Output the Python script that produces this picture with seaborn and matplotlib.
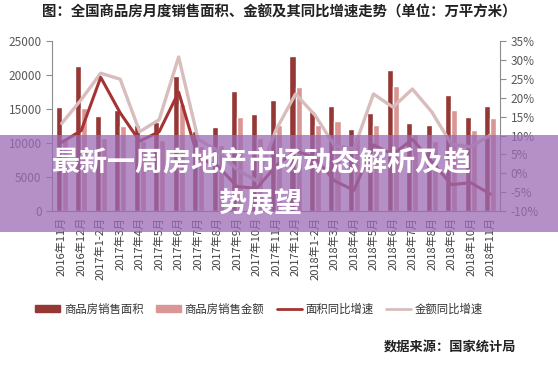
import numpy as np
import pandas as pd
import seaborn as sns
import matplotlib.pyplot as plt
from matplotlib.patches import Patch, Rectangle
from matplotlib.lines import Line2D
from matplotlib.ticker import FuncFormatter, MultipleLocator

months = ['2016年11月', '2016年12月', '2017年1-2月', '2017年3月', '2017年4月', '2017年5月',
          '2017年6月', '2017年7月', '2017年8月', '2017年9月', '2017年10月', '2017年11月',
          '2017年12月', '2018年1-2月', '2018年3月', '2018年4月', '2018年5月', '2018年6月',
          '2018年7月', '2018年8月', '2018年9月', '2018年10月', '2018年11月']
area = [15300, 21400, 14000, 14900, 12600, 13100, 19900, 11800, 12300, 17600, 14300, 16300,
        22800, 14700, 15500, 12100, 14400, 20800, 12900, 12600, 17000, 13900, 15500]
amount = [10700, 15100, 10800, 12500, 10300, 10400, 15700, 9500, 9700, 13900, 10800, 12600,
          18300, 12600, 13200, 10900, 12700, 18400, 11300, 10300, 14900, 11900, 13700]
area_yoy = [8.2, 11.3, 25.4, 16.0, 8.5, 11.0, 21.5, 4.0, 2.0, -3.5, -4.0, 2.0,
            6.0, 4.1, -2.0, -4.5, 7.5, 5.0, 9.0, 3.0, -3.0, -2.5, -5.5]
amount_yoy = [13.2, 19.5, 26.5, 24.9, 11.0, 14.2, 30.8, 9.0, 6.0, 1.0, -2.0, 11.5,
              21.0, 15.4, 7.3, 6.5, 21.0, 17.5, 22.3, 16.2, 7.7, 7.0, 10.1]

names = ['商品房销售面积', '商品房销售金额', '面积同比增速', '金额同比增速']
c_dark, c_light = '#953735', '#D99694'
c_line1, c_line2 = '#A53333', '#D9BDBD'

sns.set_style('white')
plt.rcParams['font.family'] = ['Noto Sans CJK SC', 'DejaVu Sans']

df = pd.DataFrame({'month': months * 2,
                   'value': area + amount,
                   'series': [names[0]] * len(months) + [names[1]] * len(months)})

fig = plt.figure(figsize=(5.58, 3.69), dpi=100)
ax = fig.add_axes([0.0932, 0.428, 0.803, 0.4607])
sns.barplot(data=df, x='month', y='value', hue='series', palette=[c_dark, c_light],
            width=0.62, gap=0, saturation=1, legend=False, ax=ax)

ax2 = ax.twinx()
x = np.arange(len(months))
sns.lineplot(x=x, y=amount_yoy, color=c_line2, lw=2.4, ax=ax2)
sns.lineplot(x=x, y=area_yoy, color=c_line1, lw=2.2, ax=ax2)

ax.set_xlim(-0.5, len(months) - 0.5)
ax.set_ylim(0, 25000)
ax2.set_ylim(-10, 35)
ax.yaxis.set_major_locator(MultipleLocator(5000))
ax2.yaxis.set_major_locator(MultipleLocator(5))
ax2.yaxis.set_major_formatter(FuncFormatter(lambda v, p: f'{v:.0f}%'))
ax.set_xlabel('')
ax.set_ylabel('')

gray = '#8C8C8C'
for a in (ax, ax2):
    for s in a.spines.values():
        s.set_visible(False)
    a.tick_params(colors=gray, labelcolor='#595959', labelsize=8.5, length=4, width=0.8)
ax.spines['left'].set_visible(True)
ax.spines['bottom'].set_visible(True)
ax2.spines['right'].set_visible(True)
for s in (ax.spines['left'], ax.spines['bottom'], ax2.spines['right']):
    s.set_color(gray)
    s.set_linewidth(0.8)

ax.set_xticks(x)
ax.set_xticklabels(months, rotation=90, fontsize=8, color='#404040')
ax.tick_params(axis='x', which='major', length=0, pad=4)
ax.set_xticks(np.arange(-0.5, len(months), 1), minor=True)
ax.tick_params(axis='x', which='minor', length=4, color=gray, width=0.8)
ax.tick_params(axis='y', left=True)
ax2.tick_params(axis='y', right=True)

fig.text(0.5, 0.965, '图：全国商品房月度销售面积、金额及其同比增速走势（单位：万平方米）',
         ha='center', va='center', fontsize=10.4, fontweight='bold', color='#222222')

handles = [Patch(color=c_dark), Patch(color=c_light),
           Line2D([], [], color=c_line1, lw=2), Line2D([], [], color=c_line2, lw=2)]
fig.legend(handles, names, loc='center', bbox_to_anchor=(0.464, 0.163), ncol=4, frameon=False,
           fontsize=8.2, handlelength=2.2, handleheight=0.6, handletextpad=0.3, columnspacing=1.1,
           labelcolor='#333333')

fig.text(0.925, 0.06, '数据来源：国家统计局', ha='right', va='center', fontsize=9.5,
         fontweight='bold', color='#222222')

# purple banner over the chart
fig.patches.append(Rectangle((0, 0.371), 1, 0.263, transform=fig.transFigure,
                             facecolor='#9B6BB5', alpha=0.75, edgecolor='none', zorder=10))
fig.text(0.470, 0.558, '最新一周房地产市场动态解析及趋', ha='center', va='center',
         fontsize=20.2, fontweight='bold', color='white', zorder=11)
fig.text(0.468, 0.445, '势展望', ha='center', va='center',
         fontsize=20.2, fontweight='bold', color='white', zorder=11)

fig.savefig('out.png', dpi=100)
